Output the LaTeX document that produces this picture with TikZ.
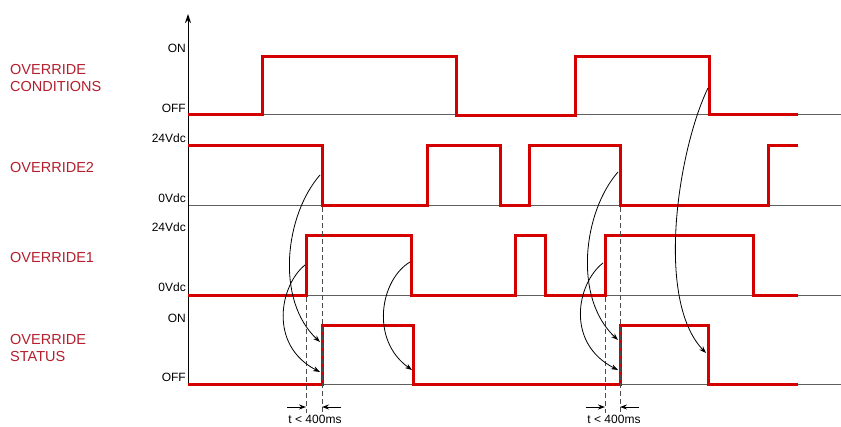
\documentclass[tikz,border=0pt]{standalone}
\usepackage{fontspec}
\setmainfont{Liberation Sans}
\usetikzlibrary{arrows.meta}
\definecolor{sig}{RGB}{212,0,0}
\definecolor{lbl}{RGB}{180,30,45}
\definecolor{base}{RGB}{95,95,95}
\tikzset{
  wave/.style={draw=sig, line width=3pt, line join=miter},
  baseline/.style={draw=base, line width=1pt},
  signame/.style={text=lbl, font=\fontsize{14.5}{17.5}\selectfont, anchor=base west, inner sep=0pt, align=left},
  lvl/.style={font=\fontsize{12}{14}\selectfont, anchor=base east, inner sep=0pt},
  note/.style={font=\fontsize{12}{14}\selectfont, anchor=base, inner sep=0pt},
  link/.style={draw=black, line width=0.8pt, -{Stealth[length=7pt,width=5pt]}},
  guide/.style={draw=black!70, line width=0.9pt, dash pattern=on 5pt off 3pt},
  dim/.style={draw=black, line width=0.9pt, -{Stealth[length=7pt,width=5pt]}}
}
\begin{document}
\begin{tikzpicture}[x=1pt,y=-1pt]
\useasboundingbox (0,0) rectangle (841,427);
\fill[white] (0,0) rectangle (841,427);

% baselines
\foreach \yy in {115,206,296,385} \draw[baseline] (188,\yy) -- (841,\yy);

% axis
\draw[line width=1pt,-{Stealth[length=9pt,width=6pt]}] (188,385) -- (188,14);

% signal names
\node[signame] (ncond1) at (10,75) {OVERRIDE};
\node[signame] (ncond2) at (10,92) {CONDITIONS};
\node[signame] (nov2) at (10,173) {OVERRIDE2};
\node[signame] (nov1) at (10,263) {OVERRIDE1};
\node[signame] (nst1) at (10,345) {OVERRIDE};
\node[signame] (nst2) at (10,362) {STATUS};

% level labels
\node[lvl] (lon1) at (186,53) {ON};
\node[lvl] (loff1) at (186,113) {OFF};
\node[lvl] (l24a) at (186,143) {24Vdc};
\node[lvl] (l0a) at (186,203) {0Vdc};
\node[lvl] (l24b) at (186,232) {24Vdc};
\node[lvl] (l0b) at (186,292) {0Vdc};
\node[lvl] (lon2) at (186,323) {ON};
\node[lvl] (loff2) at (186,382) {OFF};

% waveforms
\draw[wave] (188,115) -- (262,115) -- (262,57) -- (456,57) -- (456,116) -- (575,116) -- (575,57) -- (709,57) -- (709,115) -- (798,115);
\draw[wave] (188,146) -- (322,146) -- (322,206) -- (427,206) -- (427,146) -- (500,146) -- (500,206) -- (529,206) -- (529,146) -- (620,146) -- (620,206) -- (768,206) -- (768,146) -- (798,146);
\draw[wave] (188,296) -- (306,296) -- (306,236) -- (411,236) -- (411,296) -- (515,296) -- (515,236) -- (545,236) -- (545,296) -- (605,296) -- (605,236) -- (753,236) -- (753,296) -- (798,296);
\draw[wave] (188,385) -- (322,385) -- (322,326) -- (413,326) -- (413,385) -- (620,385) -- (620,326) -- (708,326) -- (708,385) -- (798,385);

% guide lines
\draw[guide] (306,297) -- (306,413);
\draw[guide] (322,207) -- (322,413);
\draw[guide] (605,297) -- (605,413);
\draw[guide] (620,207) -- (620,413);

% coordinates for links
\coordinate (a1) at (320,175);  \coordinate (b1) at (320,342);
\coordinate (a2) at (305,265);  \coordinate (b2) at (320,372);
\coordinate (a3) at (410,262);  \coordinate (b3) at (412,370);
\coordinate (a4) at (618,172);  \coordinate (b4) at (618,340);
\coordinate (a5) at (603,263);  \coordinate (b5) at (618,370);
\coordinate (a6) at (708,88);   \coordinate (b6) at (706,353);

\draw[link] (a1) .. controls (285,215) and (275,300) .. (b1);
\draw[link] (a2) .. controls (280,285) and (268,345) .. (b2);
\draw[link] (a3) .. controls (380,280) and (370,340) .. (b3);
\draw[link] (a4) .. controls (583,212) and (573,298) .. (b4);
\draw[link] (a5) .. controls (577,283) and (565,343) .. (b5);
\draw[link] (a6) .. controls (678,150) and (655,300) .. (b6);

% dimension arrows
\coordinate (d1) at (287,407); \coordinate (d2) at (306,407);
\coordinate (d3) at (341,407); \coordinate (d4) at (322,407);
\coordinate (d5) at (586,407); \coordinate (d6) at (605,407);
\coordinate (d7) at (639,407); \coordinate (d8) at (620,407);
\draw[dim] (d1) -- (d2);
\draw[dim] (d3) -- (d4);
\draw[dim] (d5) -- (d6);
\draw[dim] (d7) -- (d8);
\node[note] (t1) at (315,424) {t < 400ms};
\node[note] (t2) at (614,424) {t < 400ms};
\end{tikzpicture}
\end{document}
